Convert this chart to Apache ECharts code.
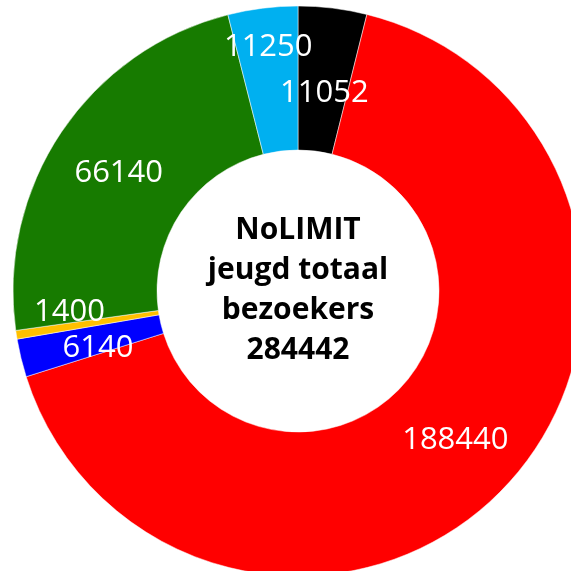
<!DOCTYPE html>
<html>
<head>
<meta charset="utf-8">
<script src="https://cdn.jsdelivr.net/npm/echarts@6/dist/echarts.min.js"></script>
<style>
  html, body { margin: 0; padding: 0; background: #fff; }
  #chart { width: 571px; height: 571px; }
</style>
</head>
<body>
<div id="chart"></div>
<script>
// slices, clockwise from 12 o'clock
const segments = ['zwart', 'rood', 'blauw', 'oranje', 'groen', 'lichtblauw']
const visitors = [11052, 188440, 6140, 1400, 66140, 11250]
const colors = ['#000000', '#FF0000', '#0000FF', '#FFC000', '#177B00', '#00B0F0']
// label nudges so they sit where the original put them
const labelOffsets = [[0, 17], [0, 1], [10, 6], [-15, -12], [0, 3], [-3, -29]]
const centerLines = ['NoLIMIT', 'jeugd totaal', 'bezoekers', '284442']

const chart = echarts.init(document.getElementById('chart'))

const option = {
  animation: false,
  graphic: [{
    type: 'text',
    x: 298,
    y: 210,
    style: {
      text: centerLines.join('\n'),
      font: 'bold 30px "Open Sans"',
      lineHeight: 40,
      fill: '#000',
      align: 'center'
    }
  }],
  series: [{
    type: 'pie',
    center: [298, 291],
    radius: [141, 285],
    startAngle: 90,
    clockwise: true,
    silent: true,
    itemStyle: {
      borderColor: '#fff',
      borderWidth: 0.5
    },
    label: {
      show: true,
      position: 'inside',
      formatter: '{c}',
      color: '#fff',
      fontFamily: 'Open Sans',
      fontSize: 31
    },
    labelLine: { show: false },
    data: visitors.map((v, i) => ({
      name: segments[i],
      value: v,
      itemStyle: { color: colors[i] },
      label: { offset: labelOffsets[i] }
    }))
  }]
}

chart.setOption(option)
</script>
</body>
</html>
